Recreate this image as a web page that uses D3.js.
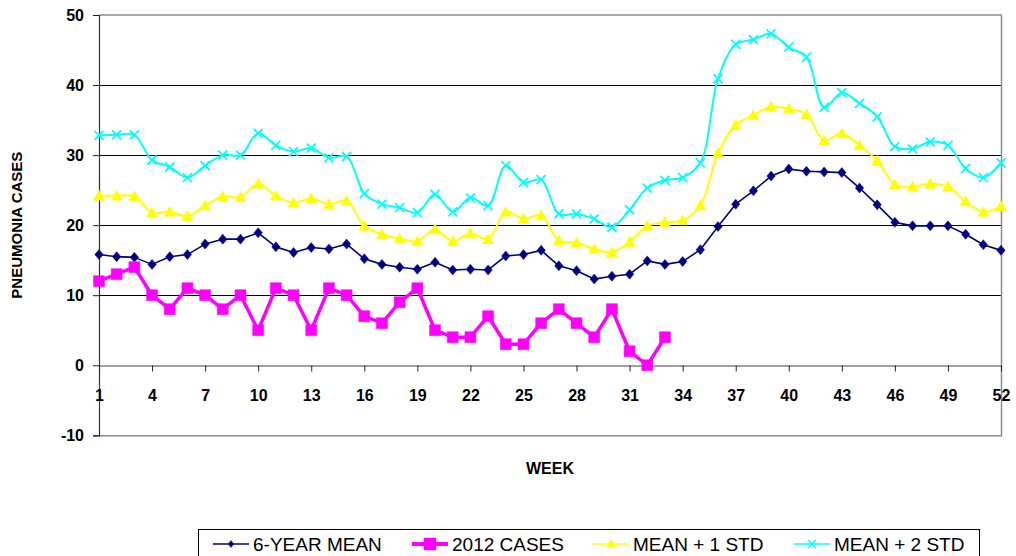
<!DOCTYPE html>
<html>
<head>
<meta charset="utf-8">
<script src="https://cdn.jsdelivr.net/npm/d3@7"></script>
<style>
  body { margin: 0; background: #fff; }
  svg { display: block; font-family: Arial, "Liberation Sans", sans-serif; }
</style>
</head>
<body>
<svg id="chart" width="1016" height="556"></svg>
<script>
const weeks = d3.range(1, 53)

const sixYearMean =
    [15.8, 15.5, 15.4, 14.4, 15.5, 15.8, 17.3, 18.0, 18.0, 18.9
    , 16.9, 16.1, 16.8, 16.6, 17.3, 15.2, 14.4, 14.0, 13.7, 14.7
    , 13.6, 13.7, 13.6, 15.6, 15.8, 16.4, 14.2, 13.5, 12.3, 12.7
    , 13.0, 14.9, 14.4, 14.8, 16.5, 19.8, 23.0, 24.9, 27.0, 28.0
    , 27.7, 27.6, 27.5, 25.3, 22.9, 20.4, 19.9, 19.9, 19.9, 18.7
    , 17.2, 16.4]

const cases2012 =
    [12, 13, 14, 10, 8, 11, 10, 8, 10, 5
    , 11, 10, 5, 11, 10, 7, 6, 9, 11, 5
    , 4, 4, 7, 3, 3, 6, 8, 6, 4, 8
    , 2, 0, 4]

const meanPlus1 =
    [24.2, 24.2, 24.1, 21.8, 21.9, 21.3, 22.8, 24.1, 24.0, 25.9
    , 24.2, 23.2, 23.8, 23.0, 23.5, 19.9, 18.7, 18.1, 17.7, 19.4
    , 17.7, 18.8, 18.0, 21.9, 20.9, 21.4, 17.8, 17.5, 16.6, 16.1
    , 17.6, 19.9, 20.4, 20.7, 22.8, 30.3, 34.3, 35.7, 36.9, 36.6
    , 35.8, 32.1, 33.1, 31.4, 29.2, 25.8, 25.5, 25.9, 25.5, 23.4
    , 21.9, 22.7]

const meanPlus2 =
    [32.8, 32.9, 32.9, 29.3, 28.3, 26.8, 28.5, 30.0, 30.0, 33.1
    , 31.4, 30.5, 31.0, 29.6, 29.8, 24.5, 23.0, 22.5, 21.8, 24.4
    , 21.9, 23.9, 22.8, 28.5, 26.1, 26.5, 21.6, 21.6, 20.9, 19.7
    , 22.2, 25.3, 26.4, 26.8, 28.9, 40.9, 45.8, 46.5, 47.3, 45.4
    , 44.0, 36.8, 38.9, 37.4, 35.5, 31.2, 30.9, 31.9, 31.4, 28.1
    , 26.8, 28.9]

const yTicks = [-10, 0, 10, 20, 30, 40, 50]
const weekTicks = [1, 4, 7, 10, 13, 16, 19, 22, 25, 28, 31, 34, 37, 40, 43, 46, 49, 52]

const seriesNames = ['6-YEAR MEAN', '2012 CASES', 'MEAN + 1 STD', 'MEAN + 2 STD']

const svg = d3.select('#chart')

const plotLeft = 99, plotRight = 1001, plotTop = 15, plotBottom = 435.3

const x = d3.scaleLinear().domain([1, 52]).range([plotLeft, plotRight])
const y = d3.scaleLinear().domain([-10, 50]).range([plotBottom, plotTop])

// grid lines
svg.append('g')
    .selectAll('line')
    .data(yTicks.filter(d => d > 0 && d < 50))
    .enter()
    .append('line')
    .attr('x1', plotLeft).attr('x2', plotRight)
    .attr('y1', d => Math.round(y(d)) + 0.5).attr('y2', d => Math.round(y(d)) + 0.5)
    .attr('stroke', '#000')

// plot frame (top, right, bottom in grey)
const frame = svg.append('g').attr('stroke', '#8c8c8c').attr('stroke-width', 1.5)
frame.append('line').attr('x1', plotLeft).attr('x2', plotRight + 1).attr('y1', y(50)).attr('y2', y(50))
frame.append('line').attr('x1', plotRight + 0.5).attr('x2', plotRight + 0.5).attr('y1', y(50)).attr('y2', y(-10))
frame.append('line').attr('x1', plotLeft).attr('x2', plotRight + 1).attr('y1', y(-10) + 0.5).attr('y2', y(-10) + 0.5)

// y axis
const yAxis = svg.append('g')
    .attr('transform', 'translate(' + plotLeft + ',0)')
    .call(d3.axisLeft(y).tickValues(yTicks).tickFormat(d => String(d)).tickSize(6).tickPadding(9))
yAxis.select('.domain').attr('stroke', '#333').attr('stroke-width', 1.2)
yAxis.selectAll('.tick line').attr('stroke', '#222')
yAxis.selectAll('text')
    .attr('font-size', 16).attr('font-weight', 'bold').attr('fill', '#000')
    .attr('font-family', 'Arial, "Liberation Sans", sans-serif')

// x axis on zero line
const xAxis = svg.append('g')
    .attr('transform', 'translate(0,' + (Math.round(y(0)) + 0.5) + ')')
    .call(d3.axisBottom(x).tickValues(weekTicks).tickFormat(d => String(d)).tickSize(6).tickSizeOuter(0))
xAxis.select('.domain').attr('stroke', '#444').attr('stroke-width', 1.2)
xAxis.selectAll('.tick line').attr('stroke', '#222')
xAxis.selectAll('text')
    .attr('y', 30).attr('dy', '0.35em')
    .attr('font-size', 16).attr('font-weight', 'bold').attr('fill', '#000')
    .attr('font-family', 'Arial, "Liberation Sans", sans-serif')

// axis titles
svg.append('text')
    .attr('transform', 'translate(22,' + ((plotTop + plotBottom) / 2) + ') rotate(-90)')
    .attr('text-anchor', 'middle')
    .attr('font-size', 15).attr('font-weight', 'bold')
    .text('PNEUMONIA CASES')

svg.append('text')
    .attr('x', (plotLeft + plotRight) / 2).attr('y', 474)
    .attr('text-anchor', 'middle')
    .attr('font-size', 16).attr('font-weight', 'bold')
    .text('WEEK')

// marker shapes
const diamond = 'M0,-5L4.2,0L0,5L-4.2,0Z'
const square = 'M-5.5,-5.5H5.5V5.5H-5.5Z'
const triangle = 'M0,-5.5L5.5,4.5H-5.5Z'
const cross = 'M-4.5,-4.5L4.5,4.5M-4.5,4.5L4.5,-4.5'

const series = [
    { name: seriesNames[0], values: sixYearMean, color: '#000080', width: 1.6, shape: diamond, fill: true, curve: d3.curveLinear },
    { name: seriesNames[1], values: cases2012, color: '#ff00ff', width: 3.5, shape: square, fill: true, curve: d3.curveLinear },
    { name: seriesNames[2], values: meanPlus1, color: '#ffff00', width: 2, shape: triangle, fill: true, curve: d3.curveCatmullRom.alpha(0.5) },
    { name: seriesNames[3], values: meanPlus2, color: '#00ffff', width: 2, shape: cross, fill: false, curve: d3.curveCatmullRom.alpha(0.5) }
]

series.forEach(s => {
    const pts = s.values.map((v, i) => ({ week: weeks[i], value: v }))
    const line = d3.line().x(d => x(d.week)).y(d => y(d.value)).curve(s.curve)
    const g = svg.append('g')
    g.append('path')
        .attr('d', line(pts))
        .attr('fill', 'none')
        .attr('stroke', s.color)
        .attr('stroke-width', s.width)
        .attr('stroke-linejoin', 'round')
    g.selectAll('path.m')
        .data(pts)
        .enter()
        .append('path')
        .attr('class', 'm')
        .attr('d', s.shape)
        .attr('transform', d => 'translate(' + x(d.week) + ',' + y(d.value) + ')')
        .attr('fill', s.fill ? s.color : 'none')
        .attr('stroke', s.color)
        .attr('stroke-width', s.fill ? 0.5 : 1.8)
})

// legend
const legend = svg.append('g')
legend.append('rect')
    .attr('x', 198.5).attr('y', 529.5)
    .attr('width', 781).attr('height', 40)
    .attr('fill', '#fff').attr('stroke', '#000').attr('stroke-width', 1)

const legendX = [213, 412, 593, 794]
const small = [
    'M0,-3.5L2.8,0L0,3.5L-2.8,0Z',
    'M-6,-6H6V6H-6Z',
    'M0,-4.5L4.5,3.5H-4.5Z',
    'M-4,-4L4,4M-4,4L4,-4'
]
series.forEach((s, i) => {
    const lg = legend.append('g').attr('transform', 'translate(' + legendX[i] + ',544)')
    lg.append('line')
        .attr('x1', 0).attr('x2', 36).attr('y1', 0).attr('y2', 0)
        .attr('stroke', s.color).attr('stroke-width', i === 1 ? 4 : 1.5)
    lg.append('path')
        .attr('d', small[i])
        .attr('transform', 'translate(18,0)')
        .attr('fill', s.fill ? s.color : 'none')
        .attr('stroke', s.color)
        .attr('stroke-width', s.fill ? 0.5 : 1.5)
    lg.append('text')
        .attr('x', 40).attr('y', 7)
        .attr('font-size', 19)
        .attr('fill', '#000')
        .text(s.name)
})
</script>
</body>
</html>
